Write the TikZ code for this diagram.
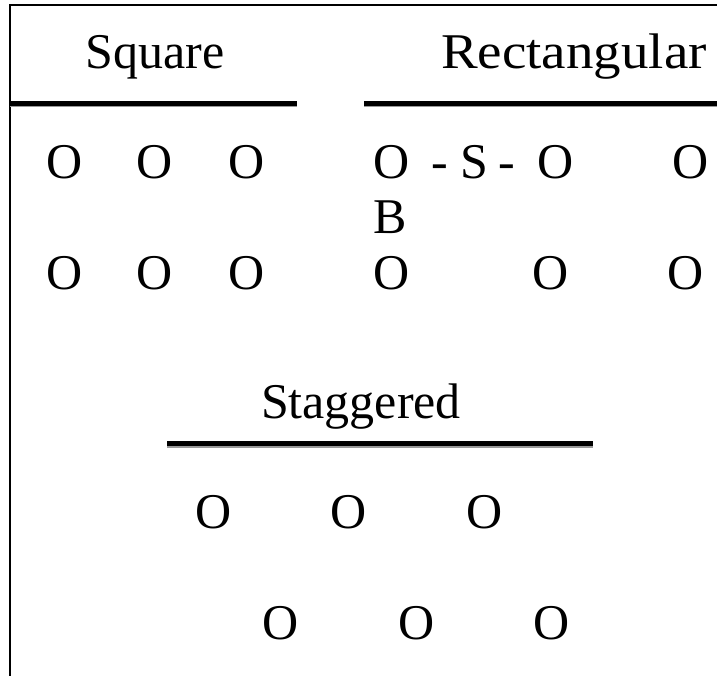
\documentclass[tikz,border=0pt]{standalone}
\usepackage{fontspec}
\setmainfont{Liberation Serif}
\begin{document}
\begin{tikzpicture}[x=1pt,y=-1pt,
  lbl/.style={anchor=base,inner sep=0pt,font=\fontsize{50}{50}\selectfont},
  ttl/.style={anchor=base,inner sep=0pt,font=\fontsize{50}{50}\selectfont},
  rulebk/.style={line width=4.5pt,black},
  rulegr/.style={line width=2pt,black!40},
  frame/.style={line width=2.5pt,black}]
\useasboundingbox (0,0) rectangle (717,676);
% frame
\coordinate (fbl) at (10,676);
\coordinate (ftl) at (10,5);
\coordinate (ftr) at (717,5);
\draw[frame] (fbl) -- (ftl) -- (ftr);
% titles
\node[ttl] (tsq) at (155,69) {Square};
\node[ttl] (tre) at (574,69) {\scalebox{1.1}[1]{Rectangular}};
\node[ttl] (tst) at (361,418) {Staggered};
% rules
\coordinate (sqa) at (10,103.5); \coordinate (sqb) at (297,103.5);
\coordinate (sqc) at (10,106.5); \coordinate (sqd) at (297,106.5);
\coordinate (rea) at (364,103.5); \coordinate (reb) at (717,103.5);
\coordinate (rec) at (364,106.5); \coordinate (red) at (717,106.5);
\coordinate (sta) at (167,443.5); \coordinate (stb) at (593,443.5);
\coordinate (stc) at (167,447); \coordinate (std) at (593,447);
\draw[rulegr] (sqc) -- (sqd);
\draw[rulebk] (sqa) -- (sqb);
\draw[rulegr] (rec) -- (red);
\draw[rulebk] (rea) -- (reb);
\draw[rulegr] (stc) -- (std);
\draw[rulebk] (sta) -- (stb);
% square
\node[lbl] (s11) at (65,179) {O};
\node[lbl] (s12) at (155,179) {O};
\node[lbl] (s13) at (247,179) {O};
\node[lbl] (s21) at (65,290) {O};
\node[lbl] (s22) at (155,290) {O};
\node[lbl] (s23) at (247,290) {O};
% rectangular
\node[lbl] (r11) at (392,179) {O};
\node[lbl] (d1) at (440,179) {-};
\node[lbl] (rs) at (474,179) {S};
\node[lbl] (d2) at (507,179) {-};
\node[lbl] (r12) at (556,179) {O};
\node[lbl] (r13) at (691,179) {O};
\node[lbl] (rb) at (390,234) {B};
\node[lbl] (r21) at (392,290) {O};
\node[lbl] (r22) at (551,290) {O};
\node[lbl] (r23) at (686,290) {O};
% staggered
\node[lbl] (g11) at (214,528) {O};
\node[lbl] (g12) at (349,528) {O};
\node[lbl] (g13) at (485,528) {O};
\node[lbl] (g21) at (281,639) {O};
\node[lbl] (g22) at (417,639) {O};
\node[lbl] (g23) at (552,639) {O};
\end{tikzpicture}
\end{document}
